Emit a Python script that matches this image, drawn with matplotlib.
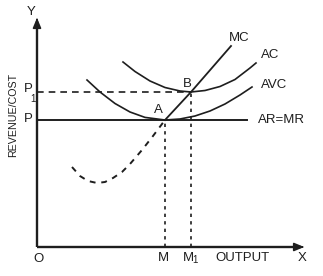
import matplotlib
matplotlib.use("Agg")
import matplotlib.pyplot as plt

plt.rcParams['font.family'] = ['Liberation Sans', 'DejaVu Sans']

# Curves (diagram units, origin at O)
avc_x = [50, 63, 78, 93, 108, 128, 143, 158, 173, 188, 203, 215]
avc_y = [167, 155, 143.5, 135, 129.6, 127, 128, 131, 136, 143, 152, 160]

ac_x = [86, 98, 113, 128, 143, 154, 168, 183, 198, 213, 219]
ac_y = [185, 175.5, 166, 159.5, 156, 155, 156.5, 160.5, 167.5, 179, 184]

mc_dash_x = [35, 43, 51, 60, 68, 76, 85, 93, 105, 116, 128]
mc_dash_y = [80, 71, 66, 64, 65, 69, 75, 83, 97, 111, 127]
mc_x = [128, 154, 194]
mc_y = [127, 155, 201]

P, P1 = 127, 155
M, M1 = 128, 154
ar_end = 210
x_end, y_end = 270, 232

col = '#1e1e1e'
fig = plt.figure(figsize=(3.23, 2.76), dpi=100)
ax = fig.add_axes([0, 0, 1, 1])
ax.set_xlim(-37, 286)
ax.set_ylim(-29, 247)
ax.axis('off')

# axes with arrows
ax.plot([0, 0], [0, y_end - 6], color=col, lw=1.7, solid_capstyle='butt')
ax.plot([0, x_end - 6], [0, 0], color=col, lw=1.7, solid_capstyle='butt')
ax.annotate('', xy=(0, y_end), xytext=(0, y_end - 8),
            arrowprops=dict(arrowstyle='-|>,head_length=0.6,head_width=0.25', color=col, lw=1.2))
ax.annotate('', xy=(x_end, 0), xytext=(x_end - 8, 0),
            arrowprops=dict(arrowstyle='-|>,head_length=0.6,head_width=0.25', color=col, lw=1.2))

# AR = MR
ax.plot([0, ar_end], [P, P], color=col, lw=1.4)
# P1 dashed
ax.plot([0, M1], [P1, P1], color=col, lw=1.2, dashes=(4, 3))
# vertical dashed
ax.plot([M, M], [0, P], color=col, lw=1.2, dashes=(2, 2.5))
ax.plot([M1, M1], [0, P1], color=col, lw=1.2, dashes=(2, 2.5))

# curves
ax.plot(avc_x, avc_y, color=col, lw=1.2)
ax.plot(ac_x, ac_y, color=col, lw=1.2)
ax.plot(mc_dash_x, mc_dash_y, color=col, lw=1.4, dashes=(3, 3))
ax.plot(mc_x, mc_y, color=col, lw=1.3)

fs = 9.5
kw = dict(color=col, ha='center', va='center')
ax.text(202, 209, 'MC', fontsize=fs, **kw)
ax.text(233, 192, 'AC', fontsize=fs, **kw)
ax.text(237, 162, 'AVC', fontsize=fs, **kw)
ax.text(244, 127, 'AR=MR', fontsize=fs, **kw)
ax.text(121, 137, 'A', fontsize=fs, **kw)
ax.text(150, 163, 'B', fontsize=fs, **kw)
ax.text(-9, 128, 'P', fontsize=fs, **kw)
ax.text(-9, 158, 'P', fontsize=fs, **kw)
ax.text(-4, 148, '1', fontsize=7, **kw)
ax.text(-6, 235, 'Y', fontsize=fs, **kw)
ax.text(1, -12, 'O', fontsize=fs, **kw)
ax.text(126, -11, 'M', fontsize=fs, **kw)
ax.text(151, -11, 'M', fontsize=fs, **kw)
ax.text(158, -13, '1', fontsize=7, **kw)
ax.text(205, -11, 'OUTPUT', fontsize=fs, **kw)
ax.text(265, -11, 'X', fontsize=fs, **kw)
ax.text(-24, 132, 'REVENUE/COST', fontsize=7.7, rotation=90, **kw)

fig.savefig('out.png', dpi=100)
